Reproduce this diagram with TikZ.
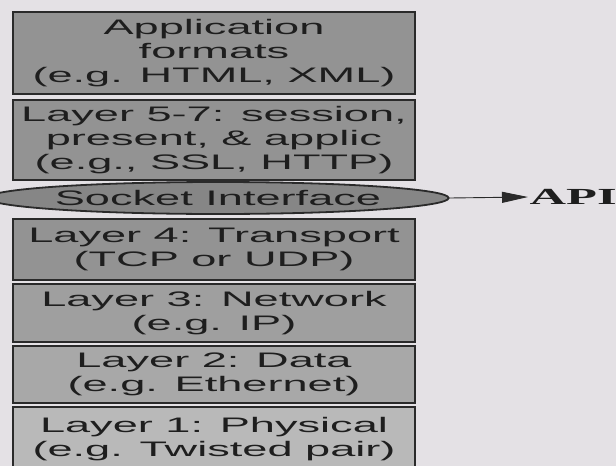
\documentclass[tikz,border=0pt]{standalone}
\usepackage{fontspec}
\usetikzlibrary{shapes.geometric,arrows.meta}
\newfontfamily\layerfont[FakeStretch=2.15]{Liberation Sans}
\newfontfamily\apifont[FakeStretch=2.2]{Liberation Serif}
\definecolor{paper}{HTML}{E4E1E5}
\definecolor{boxline}{HTML}{2A2A2A}
\definecolor{ink}{HTML}{1E1E1E}
\tikzset{layerbox/.style={draw=boxline, line width=1.8pt, fill=#1,
    minimum width=402pt, inner sep=0pt, align=center, text=ink,
    font=\layerfont\fontsize{21}{24}\selectfont},
  layerbox/.default={gray!85!white},
  socketshape/.style={ellipse, draw=boxline, line width=1.8pt,
    fill=gray!95!white, minimum width=424pt, minimum height=32pt,
    inner sep=0pt, text=ink, font=\layerfont\fontsize{21}{24}\selectfont},
  apilabel/.style={anchor=west, inner sep=1.5pt, text=ink,
    font=\apifont\bfseries\fontsize{23}{26}\selectfont},
  apiarrow/.style={draw=boxline, line width=0.9pt,
    -{Triangle[length=26pt,width=11pt]}},
}
\begin{document}
\begin{tikzpicture}[x=1pt,y=-1pt]
\useasboundingbox (0,0) rectangle (616,466);
\clip (0,0) rectangle (616,466);
\fill[paper] (0,0) rectangle (616,466);
% the layer stack
\node[layerbox, minimum height=82pt] (app) at (214,53)
  {Application\\formats\\(e.g. HTML, XML)};
\node[layerbox, minimum height=80pt] (sess) at (214,140)
  {Layer 5-7: session,\\present, \& applic\\(e.g., SSL, HTTP)};
\node[socketshape] (socket) at (218,198) {Socket Interface};
\node[layerbox, minimum height=61pt] (trans) at (214,249.5)
  {Layer 4: Transport\\(TCP or UDP)};
\node[layerbox=gray!75!white, minimum height=58pt] (net) at (214,313)
  {Layer 3: Network\\(e.g. IP)};
\node[layerbox=gray!68!white, minimum height=57pt] (data) at (214,374.5)
  {Layer 2: Data\\(e.g. Ethernet)};
\node[layerbox=gray!55!white, minimum height=72pt, text depth=13pt]
  (phys) at (214,443) {Layer 1: Physical\\(e.g. Twisted pair)};
% socket -> API
\node[apilabel] (api) at (528,197) {API};
\draw[apiarrow] (socket.east) -- (api.west);
\end{tikzpicture}
\end{document}
